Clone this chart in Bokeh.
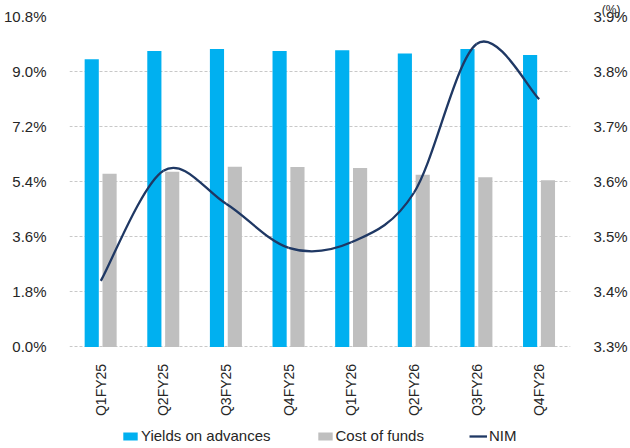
import math
from bokeh.plotting import figure
from bokeh.models import (Range1d, LinearAxis, FixedTicker, PrintfTickFormatter,
                          ColumnDataSource, Legend, LegendItem, Title)
from bokeh.core.properties import value
from bokeh.embed import file_html
from bokeh.resources import INLINE

quarters = ["Q1FY25", "Q2FY25", "Q3FY25", "Q4FY25", "Q1FY26", "Q2FY26", "Q3FY26", "Q4FY26"]
yields_on_advances = [9.40, 9.67, 9.74, 9.67, 9.70, 9.59, 9.74, 9.54]
cost_of_funds = [5.66, 5.73, 5.89, 5.88, 5.85, 5.63, 5.55, 5.45]
nim = [3.42, 3.62, 3.56, 3.48, 3.49, 3.58, 3.85, 3.75]
left_ticks = [0.0, 1.8, 3.6, 5.4, 7.2, 9.0, 10.8]
right_ticks = [3.3, 3.4, 3.5, 3.6, 3.7, 3.8, 3.9]

FONT = "Liberation Sans"
TXT = "#262626"
BLUE = "#00B0F0"
GREY = "#BFBFBF"
NAVY = "#1F3864"

n = len(quarters)
xc = [i + 0.5 for i in range(n)]

# frame runs to the bottom edge; the value axes occupy the upper 332 px of it
H, TOP, AXIS_BOTTOM = 448, 14, 346
ext = (H - AXIS_BOTTOM) / (AXIS_BOTTOM - TOP)
L0, L1 = left_ticks[0], left_ticks[-1]
R0, R1 = right_ticks[0], right_ticks[-1]

p = figure(width=630, height=H, output_backend="svg", toolbar_location=None,
           x_range=Range1d(0, n), y_range=Range1d(L0 - ext * (L1 - L0), L1),
           min_border_left=67, min_border_right=52, min_border_top=TOP, min_border_bottom=0)
p.outline_line_color = None
p.extra_y_ranges = {"nim": Range1d(R0 - ext * (R1 - R0), R1)}

src = ColumnDataSource(dict(
    xb=[x - 0.145 for x in xc], xg=[x + 0.14 for x in xc],
    yld=yields_on_advances, cof=cost_of_funds))

r_blue = p.vbar(x="xb", top="yld", width=0.226, bottom=0, source=src,
                fill_color=BLUE, line_color=None)
r_grey = p.vbar(x="xg", top="cof", width=0.226, bottom=0, source=src,
                fill_color=GREY, line_color=None)

# smoothed NIM line through the data points (cubic Bezier segments)
pts = list(zip(xc, nim))
bz = dict(x0=[], y0=[], x1=[], y1=[], cx0=[], cy0=[], cx1=[], cy1=[])
for i in range(n - 1):
    pa = pts[i - 1] if i > 0 else pts[i]
    p0 = pts[i]
    p1 = pts[i + 1]
    pb = pts[i + 2] if i + 2 < n else pts[i + 1]
    bz["x0"].append(p0[0]); bz["y0"].append(p0[1])
    bz["x1"].append(p1[0]); bz["y1"].append(p1[1])
    bz["cx0"].append(p0[0] + (p1[0] - pa[0]) / 6); bz["cy0"].append(p0[1] + (p1[1] - pa[1]) / 6)
    bz["cx1"].append(p1[0] - (pb[0] - p0[0]) / 6); bz["cy1"].append(p1[1] - (pb[1] - p0[1]) / 6)
r_line = p.bezier(x0="x0", y0="y0", x1="x1", y1="y1", cx0="cx0", cy0="cy0", cx1="cx1", cy1="cy1",
                  source=ColumnDataSource(bz), line_color=NAVY, line_width=2.3, y_range_name="nim")

# category labels (rotated, reading upward), placed just under the 0% line
label_y = -(17 / (AXIS_BOTTOM - TOP)) * (L1 - L0)
p.text(x=xc, y=[label_y] * n, text=quarters, angle=math.pi / 2,
       text_align="right", text_baseline="middle",
       text_font=value(FONT), text_font_size="14px", text_color=TXT)

p.xaxis.visible = False
p.xgrid.grid_line_color = None

p.yaxis.ticker = FixedTicker(ticks=left_ticks)
p.yaxis.formatter = PrintfTickFormatter(format="%.1f%%")
p.yaxis.major_label_standoff = 17
p.yaxis.major_label_text_font = FONT
p.yaxis.major_label_text_font_size = "15px"
p.yaxis.major_label_text_color = TXT
p.yaxis.axis_line_color = None
p.yaxis.major_tick_line_color = None
p.yaxis.minor_tick_line_color = None

ra = LinearAxis(y_range_name="nim", ticker=FixedTicker(ticks=right_ticks),
                formatter=PrintfTickFormatter(format="%.1f%%"))
ra.major_label_standoff = 17
ra.major_label_text_font = FONT
ra.major_label_text_font_size = "15px"
ra.major_label_text_color = TXT
ra.axis_line_color = None
ra.major_tick_line_color = None
ra.minor_tick_line_color = None
p.add_layout(ra, "right")

p.ygrid.ticker = FixedTicker(ticks=left_ticks)
p.ygrid.grid_line_color = "#C8C8C8"
p.ygrid.grid_line_dash = "3 2"
p.ygrid.grid_line_width = 1

# unit note of the right axis, sitting at its top
p.add_layout(Title(text="(%)", align="right", offset=-50, standoff=0,
                   text_font=FONT, text_font_size="12px", text_font_style="normal",
                   text_line_height=1.0, text_color=TXT), "above")

legend = Legend(items=[LegendItem(label="Yields on advances", renderers=[r_blue]),
                       LegendItem(label="Cost of funds", renderers=[r_grey]),
                       LegendItem(label="NIM", renderers=[r_line])],
                orientation="horizontal", location=(52, 4),
                label_text_font=FONT, label_text_font_size="15px", label_text_color=TXT,
                glyph_width=18, glyph_height=10, label_standoff=2, spacing=45,
                padding=0, margin=0, border_line_color=None, background_fill_alpha=0)
p.add_layout(legend, "center")

open("out.html", "w").write(file_html(p, INLINE))
